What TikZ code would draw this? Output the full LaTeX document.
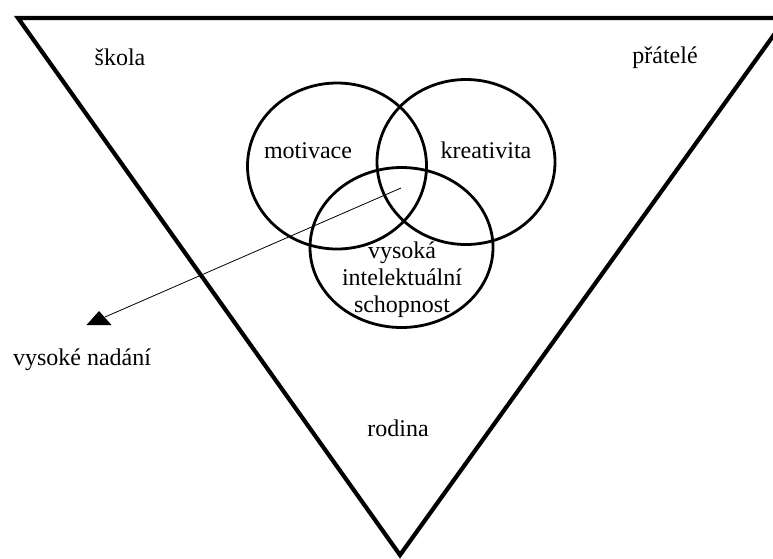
\documentclass[tikz,border=0pt]{standalone}
\usepackage{fontspec}
\setmainfont{Liberation Serif}
\begin{document}
\begin{tikzpicture}[x=1pt,y=-1pt,
  lbl/.style={font=\fontsize{24}{27}\selectfont,inner sep=0pt},
  kruh/.style={line width=2.8pt}]
\useasboundingbox (0,0) rectangle (773,558);

\draw[line width=4.2pt] (18,18) -- (786,18) -- (400,555) -- cycle;

\draw[kruh] (337,166) ellipse (89.5 and 83);
\draw[kruh] (466,162) ellipse (89 and 82.5);
\draw[kruh] (401.5,247.5) ellipse (91.5 and 80);

\node[lbl,anchor=base] (skola) at (120,65) {škola};
\node[lbl,anchor=base] (pratele) at (665,63) {přátelé};
\node[lbl,anchor=base] (motivace) at (308,158) {motivace};
\node[lbl,anchor=base] (kreativita) at (486,158) {kreativita};
\node[lbl,align=center] (schopnost) at (402,280) {vysoká\\intelektuální\\schopnost};
\node[lbl,anchor=base] (nadani) at (82,365) {vysoké nadání};
\node[lbl,anchor=base] (rodina) at (398,436) {rodina};

\coordinate (stred) at (401,188);
\coordinate (hrot) at (105,317);
\fill (99,311) -- (111.5,325) -- (86.5,325) -- cycle;
\draw[line width=0.8pt] (stred) -- (hrot);
\end{tikzpicture}
\end{document}
